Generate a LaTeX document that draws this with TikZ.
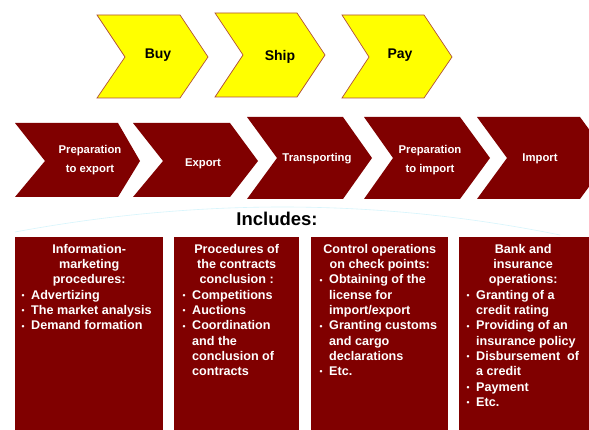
\documentclass[tikz,border=0pt]{standalone}
\usepackage{fontspec}
\setmainfont{Liberation Sans}
\definecolor{dred}{RGB}{128,0,0}
\definecolor{yel}{RGB}{255,255,0}
\definecolor{yedge}{RGB}{176,80,58}
\definecolor{arcc}{RGB}{215,245,252}
\newcommand{\bitem}[1]{\par\hangindent=10pt\hangafter=1\noindent\makebox[10pt][l]{\hspace{0.5pt}\raisebox{0.8pt}{\fontsize{8.5}{8.5}\selectfont\textbullet}}#1\par}
\newcommand{\boxcontent}[2]{\begin{minipage}[t]{#1}\raggedright #2\end{minipage}}
\tikzset{
  ychev/.style={fill=yel, draw=yedge, line width=0.7pt},
  rchev/.style={fill=dred},
  ytext/.style={font=\fontsize{14}{16}\selectfont\bfseries, text=black},
  rtext/.style={font=\fontsize{11.3}{19}\selectfont\bfseries, text=white, align=center},
  boxbg/.style={fill=dred},
  boxtext/.style={font=\fontsize{12.6}{15.3}\selectfont\bfseries, text=white, anchor=north west, inner sep=0pt},
}
\begin{document}
\begin{tikzpicture}[x=1pt,y=-1pt]
\clip (0,0) rectangle (589,430);
\fill[white] (0,0) rectangle (589,430);
% faint arc
\draw[arcc, line width=0.6pt] (15,232) .. controls (200,197.7) and (381.7,198.7) .. (560,235);
% yellow chevrons
\draw[ychev] (97,15) -- (180,15) -- (208,57) -- (180,98) -- (97,98) -- (125,57) -- cycle;
\draw[ychev] (215,13) -- (297,13) -- (325,55) -- (297,97) -- (215,97) -- (243,55) -- cycle;
\draw[ychev] (342,15) -- (424,15) -- (452,57) -- (424,98) -- (342,98) -- (369,57) -- cycle;
\node[ytext] (buy) at (158,55) {Buy};
\node[ytext] (ship) at (280,57) {Ship};
\node[ytext] (pay) at (400,55) {Pay};
% red chevrons
\fill[rchev] (15,123) -- (118,123) -- (140,161) -- (118,197) -- (15,197) -- (45,161) -- cycle;
\fill[rchev] (133,123) -- (230,123) -- (258,161) -- (230,197) -- (133,197) -- (163,161) -- cycle;
\fill[rchev] (247,117) -- (343,117) -- (372,158) -- (343,199) -- (247,199) -- (277,158) -- cycle;
\fill[rchev] (364,117) -- (460,117) -- (490,158) -- (460,199) -- (364,199) -- (393,158) -- cycle;
\fill[rchev] (477,117) -- (580,117) -- (610,158) -- (580,199) -- (477,199) -- (507,158) -- cycle;
\node[rtext] (r1) at (90,160) {Preparation\\to export};
\node[rtext] (r2) at (203,164) {Export};
\node[rtext] (r3) at (317,159) {Transporting};
\node[rtext] (r4) at (430,160) {Preparation\\to import};
\node[rtext] (r5) at (540,159) {Import};
\node[font=\fontsize{18.5}{20}\selectfont\bfseries] (inc) at (277,219) {Includes:};
% boxes
\fill[boxbg] (15,237) rectangle (163,440);
\fill[boxbg] (174,237) rectangle (299,440);
\fill[boxbg] (311,237) rectangle (448,440);
\fill[boxbg] (459,237) rectangle (595,440);
\node[boxtext] (b1) at (21,244) {\boxcontent{136pt}{{\centering Information-\\marketing\\procedures:\par}%
\bitem{Advertizing}\bitem{The market analysis}\bitem{Demand formation}}};
\node[boxtext] (b2) at (182,244) {\boxcontent{109pt}{{\centering Procedures of\\the contracts\\conclusion :\par}%
\bitem{Competitions}\bitem{Auctions}\bitem{Coordination\newline and the\newline conclusion of\newline contracts}}};
\node[boxtext] (b3) at (319,244) {\boxcontent{121pt}{{\centering Control operations\\on check points:\par}%
\bitem{Obtaining of the\newline license for\newline import/export}\bitem{Granting customs\newline and cargo\newline declarations}\bitem{Etc.}}};
\node[boxtext] (b4) at (466,244) {\boxcontent{114pt}{{\centering Bank and\\insurance\\operations:\par}%
\bitem{Granting of a\newline credit rating}\bitem{Providing of an\newline insurance policy}\bitem{Disbursement\ \ of\newline a credit}\bitem{Payment}\bitem{Etc.}}};
\end{tikzpicture}
\end{document}
